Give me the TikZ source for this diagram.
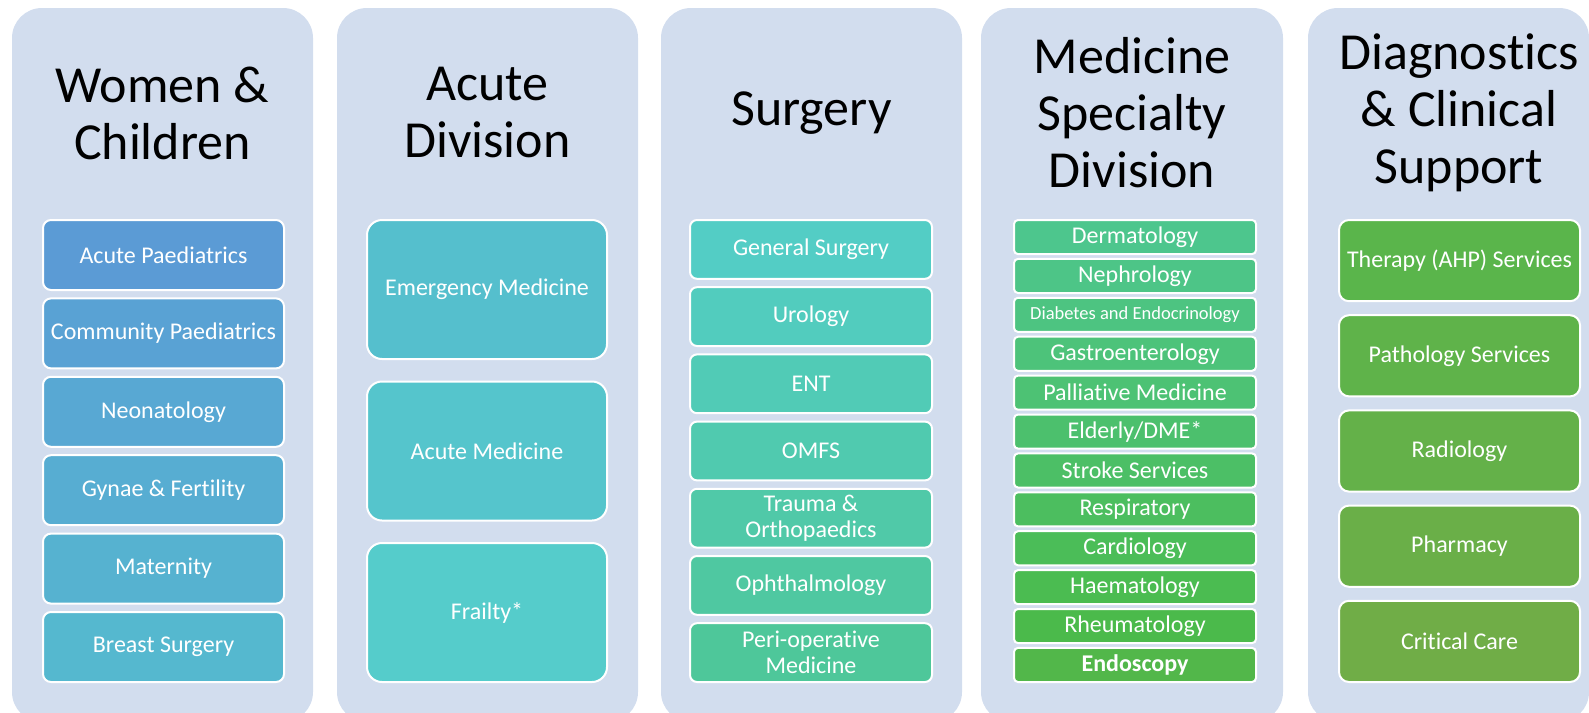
\documentclass[tikz,border=0pt]{standalone}
\usepackage{fontspec}
\setmainfont{Carlito}[Ligatures={NoCommon}]
\definecolor{bgc}{HTML}{D2DDEE}
\definecolor{a1}{HTML}{5B9BD5}
\definecolor{a2}{HTML}{59A2D4}
\definecolor{a3}{HTML}{58A8D3}
\definecolor{a4}{HTML}{57ADD2}
\definecolor{a5}{HTML}{56B2D0}
\definecolor{a6}{HTML}{55B8CF}
\definecolor{b1}{HTML}{55BFCD}
\definecolor{b2}{HTML}{55C5CC}
\definecolor{b3}{HTML}{55CCCB}
\definecolor{s1}{HTML}{53CDC5}
\definecolor{s2}{HTML}{52CCBE}
\definecolor{s3}{HTML}{51CBB6}
\definecolor{s4}{HTML}{50CAAF}
\definecolor{s5}{HTML}{50C9A8}
\definecolor{s6}{HTML}{4FC8A1}
\definecolor{s7}{HTML}{4EC79A}
\definecolor{m1}{HTML}{4DC68D}
\definecolor{m2}{HTML}{4DC587}
\definecolor{m3}{HTML}{4DC481}
\definecolor{m4}{HTML}{4DC37A}
\definecolor{m5}{HTML}{4DC274}
\definecolor{m6}{HTML}{4CC06D}
\definecolor{m7}{HTML}{4CBF66}
\definecolor{m8}{HTML}{4CBE5F}
\definecolor{m9}{HTML}{4BBD58}
\definecolor{m10}{HTML}{4BBC51}
\definecolor{m11}{HTML}{4BBA4B}
\definecolor{m12}{HTML}{52B74A}
\definecolor{d1}{HTML}{5AB54B}
\definecolor{d2}{HTML}{5FB34A}
\definecolor{d3}{HTML}{64B149}
\definecolor{d4}{HTML}{6AAF48}
\definecolor{d5}{HTML}{70AD47}
\begin{document}
\begin{tikzpicture}[x=1pt,y=-1pt,
  colbg/.style={fill=bgc, rounded corners=30pt},
  ttl/.style={align=center, text=black, font=\fontsize{52}{57}\selectfont, inner sep=0pt},
  item/.style={draw=white, line width=2pt, text=white, font=\fontsize{24}{26.4}\selectfont, align=center, inner sep=0pt},
  itA/.style={item, minimum width=241pt, minimum height=70pt, rounded corners=8pt},
  itB/.style={item, minimum width=240pt, minimum height=139pt, rounded corners=15pt},
  itC/.style={item, minimum width=242pt, minimum height=58.8pt, rounded corners=7pt},
  itD/.style={item, minimum width=242pt, minimum height=34.1pt, rounded corners=4pt},
  itE/.style={item, minimum width=241pt, minimum height=81.2pt, rounded corners=10pt}
]
\useasboundingbox (0,0) rectangle (1589,712);
\begin{scope}
\clip (0,0) rectangle (1589,712);
\fill[colbg] (12,8) rectangle (313,722);
\fill[colbg] (337,8) rectangle (638,722);
\fill[colbg] (661,8) rectangle (962,722);
\fill[colbg] (981,8) rectangle (1283,722);
\fill[colbg] (1308,8) rectangle (1589,722);
\end{scope}

% titles
\node[ttl] (t1) at (162.5,113) {Women \&\\Children};
\node[ttl] (t2) at (487.5,113) {Acute\\Division};
\node[ttl] (t3) at (811.5,113) {Surgery};
\node[ttl] (t4) at (1132,113) {Medicine\\Specialty\\Division};
\node[ttl] (t5) at (1459,113) {Diagnostics\\\& Clinical\\Support};

% column 1
\node[itA, fill=a1] (w1) at (163.5,255) {Acute Paediatrics};
\node[itA, fill=a2] (w2) at (163.5,333.4) {Community Paediatrics};
\node[itA, fill=a3] (w3) at (163.5,411.8) {Neonatology};
\node[itA, fill=a4] (w4) at (163.5,490.2) {Gynae \& Fertility};
\node[itA, fill=a5] (w5) at (163.5,568.6) {Maternity};
\node[itA, fill=a6] (w6) at (163.5,647) {Breast Surgery};

% column 2
\node[itB, fill=b1] (ac1) at (487,289.5) {Emergency Medicine};
\node[itB, fill=b2] (ac2) at (487,451) {Acute Medicine};
\node[itB, fill=b3] (ac3) at (487,612.5) {Frailty*};

% column 3
\node[itC, fill=s1] (su1) at (811,249.4) {General Surgery};
\node[itC, fill=s2] (su2) at (811,316.6) {Urology};
\node[itC, fill=s3] (su3) at (811,383.8) {ENT};
\node[itC, fill=s4] (su4) at (811,451) {OMFS};
\node[itC, fill=s5] (su5) at (811,518.2) {Trauma \&\\Orthopaedics};
\node[itC, fill=s6] (su6) at (811,585.4) {Ophthalmology};
\node[itC, fill=s7] (su7) at (811,652.6) {Peri-operative\\Medicine};

% column 4
\node[itD, fill=m1] (me1) at (1135,237.05) {Dermatology};
\node[itD, fill=m2] (me2) at (1135,275.95) {Nephrology};
\node[itD, fill=m3, font=\fontsize{18.5}{20}\selectfont] (me3) at (1135,314.85) {Diabetes and Endocrinology};
\node[itD, fill=m4] (me4) at (1135,353.75) {Gastroenterology};
\node[itD, fill=m5] (me5) at (1135,392.65) {Palliative Medicine};
\node[itD, fill=m6] (me6) at (1135,431.55) {Elderly/DME*};
\node[itD, fill=m7] (me7) at (1135,470.45) {Stroke Services};
\node[itD, fill=m8] (me8) at (1135,509.35) {Respiratory};
\node[itD, fill=m9] (me9) at (1135,548.25) {Cardiology};
\node[itD, fill=m10] (me10) at (1135,587.15) {Haematology};
\node[itD, fill=m11] (me11) at (1135,626.05) {Rheumatology};
\node[itD, fill=m12, font=\fontsize{24}{26.4}\selectfont\bfseries] (me12) at (1135,664.95) {Endoscopy};

% column 5
\node[itE, fill=d1] (dg1) at (1459.5,260.6) {Therapy (AHP) Services};
\node[itE, fill=d2] (dg2) at (1459.5,355.8) {Pathology Services};
\node[itE, fill=d3] (dg3) at (1459.5,451) {Radiology};
\node[itE, fill=d4] (dg4) at (1459.5,546.2) {Pharmacy};
\node[itE, fill=d5] (dg5) at (1459.5,641.4) {Critical Care};
\end{tikzpicture}
\end{document}
